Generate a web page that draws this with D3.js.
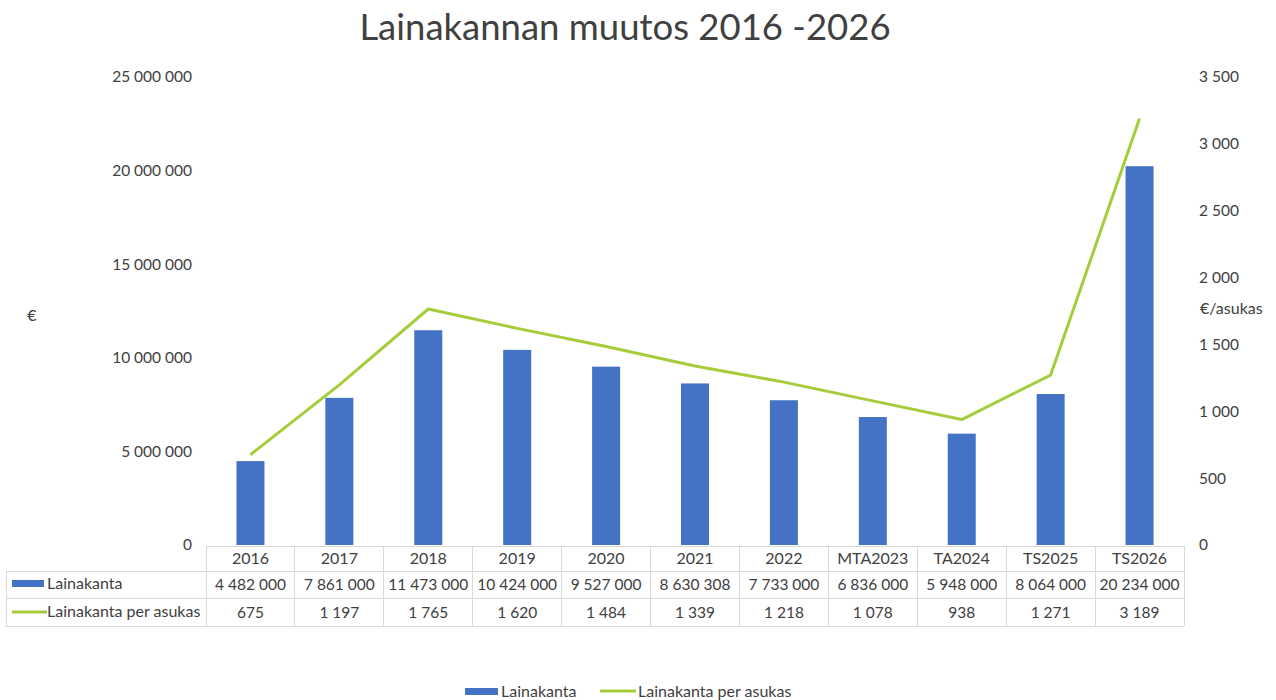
<!DOCTYPE html>
<html><head><meta charset="utf-8">
<script src="https://cdn.jsdelivr.net/npm/d3@7"></script>
<style>
body{margin:0;background:#fff;}
text{font-family:Lato,"Open Sans",sans-serif;fill:#404040;}
</style></head>
<body><svg id="c" width="1276" height="700"></svg>
<script>
const categories = ["2016","2017","2018","2019","2020","2021","2022","MTA2023","TA2024","TS2025","TS2026"];
const lainakanta = [4482000,7861000,11473000,10424000,9527000,8630308,7733000,6836000,5948000,8064000,20234000];
const perAsukas = [675,1197,1765,1620,1484,1339,1218,1078,938,1271,3189];
const leftTicks = [0,5000000,10000000,15000000,20000000,25000000];
const rightTicks = [0,500,1000,1500,2000,2500,3000,3500];
const seriesNames = ["Lainakanta","Lainakanta per asukas"];
const title = "Lainakannan muutos 2016 -2026";

const fi = d3.formatLocale({decimal:",",thousands:"\u00a0",grouping:[3],currency:["","€"]});
const fmt = fi.format(",d");

const svg = d3.select("#c");
const pLeft = 206, pRight = 1184, pTop = 77, pBottom = 545;
const x = d3.scaleBand().domain(categories).range([pLeft,pRight]).paddingInner(0).paddingOuter(0);
const yL = d3.scaleLinear().domain([0,25000000]).range([pBottom,pTop]);
const yR = d3.scaleLinear().domain([0,3500]).range([pBottom,pTop]);
const blue = "#4472C4", green = "#A5CC3A", grid = "#d9d9d9";
const fs = "15.5px", fsL = "16px";

svg.append("text").attr("x",625).attr("y",40).attr("text-anchor","middle")
  .style("font-size","36.5px").text(title);

const gL = svg.append("g").attr("transform",`translate(${pLeft},0)`)
  .call(d3.axisLeft(yL).tickValues(leftTicks).tickFormat(fmt).tickSize(0).tickPadding(14));
gL.select(".domain").remove();
gL.selectAll("text").style("font-size",fs).style("font-family","Lato").attr("fill","#404040");

const gR = svg.append("g").attr("transform",`translate(${pRight},0)`)
  .call(d3.axisRight(yR).tickValues(rightTicks).tickFormat(fmt).tickSize(0).tickPadding(15));
gR.select(".domain").remove();
gR.selectAll("text").style("font-size",fs).style("font-family","Lato").attr("fill","#404040");

svg.append("text").attr("x",32).attr("y",321).attr("text-anchor","middle").style("font-size",fsL).text("€");
svg.append("text").attr("x",1200).attr("y",314).style("font-size",fsL).text("€/asukas");

const bw = 28;
svg.append("g").selectAll("rect").data(lainakanta).join("rect")
  .attr("x",(d,i)=>x(categories[i])+x.bandwidth()/2-bw/2)
  .attr("width",bw)
  .attr("y",d=>yL(d))
  .attr("height",d=>pBottom-yL(d))
  .attr("fill",blue);

const line = d3.line().x((d,i)=>x(categories[i])+x.bandwidth()/2).y(d=>yR(d));
svg.append("path").datum(perAsukas).attr("d",line).attr("fill","none")
  .attr("stroke",green).attr("stroke-width",3).attr("stroke-linejoin","round");

const rows = [pBottom+1, 571, 598, 626];
const tbl = svg.append("g").attr("stroke",grid).attr("stroke-width",1).attr("shape-rendering","crispEdges");
tbl.append("line").attr("x1",pLeft).attr("x2",pRight).attr("y1",rows[0]).attr("y2",rows[0]);
[1,2,3].forEach(k=>tbl.append("line").attr("x1",6).attr("x2",pRight).attr("y1",rows[k]).attr("y2",rows[k]));
tbl.append("line").attr("x1",6).attr("x2",6).attr("y1",rows[1]).attr("y2",rows[3]);
categories.forEach(c=>tbl.append("line").attr("x1",x(c)).attr("x2",x(c)).attr("y1",rows[0]).attr("y2",rows[3]));
tbl.append("line").attr("x1",pRight).attr("x2",pRight).attr("y1",rows[0]).attr("y2",rows[3]);

const cx = c=>x(c)+x.bandwidth()/2;
svg.append("g").selectAll("text").data(categories).join("text")
  .attr("x",cx).attr("y",(rows[0]+rows[1])/2+5.5).attr("text-anchor","middle").style("font-size",fsL).text(d=>d);
svg.append("g").selectAll("text").data(lainakanta).join("text")
  .attr("x",(d,i)=>cx(categories[i])).attr("y",(rows[1]+rows[2])/2+5.5).attr("text-anchor","middle").style("font-size",fs).text(d=>fmt(d));
svg.append("g").selectAll("text").data(perAsukas).join("text")
  .attr("x",(d,i)=>cx(categories[i])).attr("y",(rows[2]+rows[3])/2+5.5).attr("text-anchor","middle").style("font-size",fs).text(d=>fmt(d));

svg.append("rect").attr("x",12).attr("y",580).attr("width",32).attr("height",7).attr("fill",blue);
svg.append("text").attr("x",47).attr("y",589).style("font-size",fsL).text(seriesNames[0]);
svg.append("line").attr("x1",12).attr("x2",47).attr("y1",612).attr("y2",612).attr("stroke",green).attr("stroke-width",3);
svg.append("text").attr("x",47).attr("y",617).style("font-size",fsL).text(seriesNames[1]);

svg.append("rect").attr("x",465).attr("y",688).attr("width",33).attr("height",7).attr("fill",blue);
svg.append("text").attr("x",501).attr("y",697).style("font-size",fsL).text(seriesNames[0]);
svg.append("line").attr("x1",600).attr("x2",636).attr("y1",691).attr("y2",691).attr("stroke",green).attr("stroke-width",3);
svg.append("text").attr("x",638).attr("y",697).style("font-size",fsL).text(seriesNames[1]);
</script></body></html>
